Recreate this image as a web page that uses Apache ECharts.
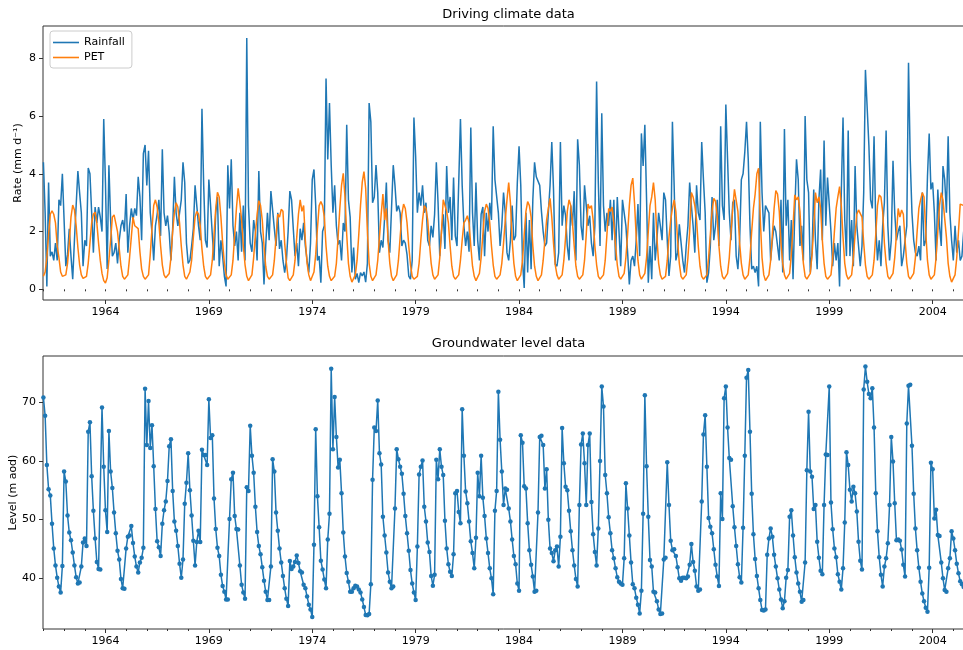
<!DOCTYPE html>
<html><head><meta charset="utf-8">
<script src="https://cdn.jsdelivr.net/npm/echarts@6/dist/echarts.min.js"></script>
<style>html,body{margin:0;padding:0;background:#fff}#c{width:963px;height:650px}</style>
</head><body><div id="c"></div>
<script>
// Monthly series starting January 1961
const startYear = 1961;

const rainfall = [
4.4,2.65,0.1,3.7,1.15,1.3,1.0,1.6,1.0,3.1,2.9,4.0,
3.95,0.8,1.2,2.1,1.15,0.35,1.7,2.9,4.1,3.35,2.65,0.8,
1.7,1.5,4.2,4.0,2.65,1.27,2.85,2.3,2.85,2.5,2.0,5.9,
3.7,0.7,4.3,2.4,1.15,1.27,1.6,0.9,1.7,2.2,2.4,2.0,
3.3,1.27,2.2,2.8,2.4,2.8,2.55,3.9,3.2,1.7,4.7,5.0,
3.6,4.8,2.65,1.96,1.0,2.2,2.6,3.1,1.85,4.85,2.65,2.2,
2.55,1.96,1.0,2.1,3.9,2.65,2.2,2.65,3.1,4.4,3.7,1.6,
0.9,1.0,1.5,2.1,3.6,2.9,2.2,1.7,6.25,3.6,1.7,1.45,
3.8,2.9,1.9,1.0,2.65,3.2,0.8,1.7,1.15,0.46,0.1,4.3,
2.8,4.5,2.2,1.5,2.0,1.0,2.65,1.3,2.9,1.0,8.7,2.9,
1.6,1.3,2.4,2.0,1.0,4.1,2.0,1.6,0.17,1.5,2.65,1.7,
3.4,3.4,2.1,1.5,2.65,1.4,1.7,1.0,0.58,1.0,2.0,3.4,
3.1,2.1,1.15,1.6,0.8,2.1,1.7,2.3,1.5,1.0,0.58,1.6,
3.8,4.15,2.9,1.0,1.15,0.23,2.0,2.2,7.3,4.5,6.45,4.3,
2.65,3.6,2.2,1.55,1.7,1.0,2.3,2.0,5.7,3.1,2.5,0.58,
1.45,0.35,0.55,0.23,0.58,0.46,0.6,0.25,0.9,6.45,5.8,3.0,
3.2,4.3,3.35,1.27,1.7,1.45,2.5,3.7,1.7,1.27,2.8,4.3,
3.6,2.7,2.9,2.65,1.5,1.7,1.6,1.2,0.46,0.35,1.0,5.95,
4.6,2.65,3.35,2.9,3.6,2.65,3.0,1.7,1.5,2.2,1.8,2.6,
4.4,3.0,1.15,2.0,2.6,1.4,4.27,2.65,3.2,1.7,3.87,1.85,
1.5,1.5,5.9,3.6,2.2,1.5,2.0,1.3,5.6,2.65,1.5,3.7,
1.7,1.0,2.6,2.85,1.15,2.65,2.0,3.0,2.4,5.65,3.8,3.75,
2.65,1.5,2.2,3.35,2.65,1.27,1.0,1.7,2.9,1.7,1.85,3.7,
4.95,3.6,1.0,0.05,2.65,0.58,2.4,0.7,3.1,4.4,3.9,3.87,
3.6,2.7,2.0,1.5,1.6,2.65,3.6,5.1,3.46,0.87,0.8,1.27,
5.1,2.2,2.9,2.55,1.5,1.0,2.9,2.2,3.4,1.0,5.2,4.3,
2.2,1.7,3.6,2.9,2.2,2.55,1.6,1.15,2.2,7.2,3.7,1.5,
6.1,2.9,2.0,2.65,2.2,3.1,1.7,3.1,1.0,3.2,2.0,0.8,
3.1,2.65,2.2,1.27,0.17,1.0,1.15,0.8,1.7,2.95,1.15,5.4,
4.27,5.7,3.1,0.23,1.5,0.35,2.65,1.0,1.7,2.65,2.2,1.7,
3.35,3.1,1.7,0.46,1.15,5.8,3.6,1.0,1.27,2.25,2.2,1.0,
0.58,1.5,2.2,3.7,2.9,2.2,1.27,3.6,2.65,2.4,5.1,3.8,
2.65,0.23,0.58,1.5,3.2,1.7,2.2,3.1,1.5,5.65,2.9,2.4,
6.4,4.5,2.65,1.7,3.0,3.1,1.15,0.7,1.7,3.8,4.0,4.75,
5.8,4.5,2.2,0.7,0.8,0.58,0.8,0.1,5.8,3.35,2.0,2.9,
2.9,2.65,1.0,1.7,2.2,2.0,1.5,1.0,3.1,0.58,5.55,2.2,
3.1,1.0,2.4,0.35,2.65,4.5,3.8,1.5,2.2,1.0,6.0,3.8,
3.35,0.58,1.27,3.46,1.7,0.7,3.1,4.15,1.7,5.15,2.2,3.87,
3.9,2.0,0.8,1.6,1.0,1.6,0.1,3.35,5.95,2.4,1.15,5.5,
1.15,2.4,0.8,4.27,2.2,1.5,0.8,1.5,3.35,7.6,7.65,5.0,
3.1,2.8,5.3,2.2,1.0,1.7,0.8,2.2,3.0,5.5,2.2,1.0,
1.7,4.45,2.65,1.7,2.0,2.2,0.8,1.15,1.7,2.2,7.85,4.5,
2.65,1.7,1.27,1.15,1.5,1.0,3.35,1.5,1.7,3.9,5.4,3.46,
3.7,2.65,1.0,3.46,2.2,1.5,4.27,3.8,2.65,5.3,2.65,1.7,
1.0,2.2,1.27,1.7,1.0,1.15,2.0,1.5
];

const pet = [
0.45,0.6,1.1,1.9,2.6,2.72,2.6,2.3,1.5,1.1,0.6,0.45,
0.4,0.5,0.9,1.6,2.5,2.92,2.75,2.2,1.45,0.85,0.5,0.38,
0.35,0.45,0.9,1.6,2.3,2.6,2.67,2.3,1.6,1.0,0.55,0.3,
0.22,0.4,1.0,1.7,2.5,2.58,2.55,2.0,1.4,0.8,0.45,0.35,
0.4,0.5,1.1,1.8,2.5,2.2,2.15,2.1,1.3,0.7,0.45,0.35,
0.3,0.5,1.2,2.1,2.9,3.1,2.85,2.3,1.5,0.85,0.5,0.4,
0.35,0.55,1.1,2.0,2.65,3.0,2.85,2.3,1.5,0.85,0.45,0.35,
0.4,0.6,1.0,1.8,2.5,2.7,2.6,2.2,1.4,0.8,0.45,0.35,
0.4,0.5,1.0,1.9,2.8,3.36,3.2,2.5,1.6,0.9,0.5,0.35,
0.35,0.5,1.0,1.9,2.8,3.5,3.0,2.4,1.5,0.85,0.45,0.3,
0.3,0.5,1.1,1.9,2.6,3.07,2.9,2.4,1.5,0.8,0.45,0.35,
0.35,0.5,1.0,1.8,2.6,2.5,2.77,2.7,1.6,0.9,0.4,0.3,
0.35,0.5,1.0,1.8,2.6,3.1,2.7,2.9,1.7,0.9,0.5,0.3,
0.35,0.6,1.2,2.1,2.9,3.04,2.9,2.5,1.5,0.8,0.45,0.3,
0.3,0.45,0.9,1.8,2.8,3.6,4.02,3.2,1.9,0.9,0.45,0.25,
0.3,0.5,1.0,1.9,2.9,3.7,4.08,3.5,2.0,0.9,0.45,0.3,
0.35,0.5,1.0,1.8,2.6,3.3,2.4,2.8,1.7,0.9,0.45,0.3,
0.35,0.5,1.0,1.8,2.6,2.95,2.8,2.3,1.5,0.85,0.45,0.35,
0.3,0.45,0.9,1.7,2.4,2.9,2.8,2.4,1.6,0.9,0.5,0.35,
0.35,0.5,1.1,2.0,3.1,2.9,2.7,2.3,1.5,0.8,0.45,0.35,
0.35,0.5,1.0,1.7,2.3,2.4,2.55,2.3,1.5,0.8,0.45,0.3,
0.35,0.55,1.1,1.9,2.7,2.95,2.8,2.3,1.5,0.85,0.45,0.35,
0.35,0.5,0.9,1.6,2.4,3.1,3.7,3.0,1.7,0.9,0.45,0.3,
0.3,0.5,1.0,1.9,2.7,3.04,2.9,2.5,1.5,0.8,0.45,0.3,
0.35,0.5,1.0,1.7,2.4,2.8,3.15,2.5,1.6,0.85,0.5,0.35,
0.35,0.5,1.0,1.8,2.7,3.1,2.9,2.3,1.5,0.8,0.45,0.35,
0.35,0.5,1.0,1.9,2.95,2.8,2.9,2.4,1.5,0.85,0.45,0.35,
0.35,0.5,1.0,1.9,2.8,2.7,2.85,2.3,1.5,0.85,0.45,0.35,
0.4,0.55,1.1,1.9,2.9,3.6,3.85,3.0,1.8,1.0,0.5,0.35,
0.35,0.55,1.1,2.0,2.9,3.2,3.7,3.1,1.8,0.9,0.5,0.35,
0.3,0.45,1.0,1.8,2.4,2.8,3.1,2.7,1.7,0.9,0.45,0.35,
0.35,0.5,1.1,2.0,3.35,3.2,2.9,2.4,1.5,0.8,0.45,0.35,
0.35,0.5,1.1,1.9,2.7,3.15,3.05,2.5,1.5,0.8,0.45,0.35,
0.35,0.55,1.1,2.0,2.8,3.46,3.4,2.7,1.6,0.9,0.5,0.35,
0.35,0.5,1.1,2.0,2.8,3.3,4.0,4.19,2.4,1.1,0.5,0.3,
0.3,0.5,1.0,1.9,2.8,3.42,3.3,2.7,1.6,0.9,0.5,0.35,
0.35,0.55,1.2,2.2,3.27,3.1,3.2,2.7,1.6,0.9,0.45,0.35,
0.35,0.55,1.2,2.1,3.35,3.0,3.2,2.8,1.7,0.9,0.45,0.35,
0.35,0.5,1.1,2.0,2.8,3.2,3.56,2.9,1.8,0.9,0.5,0.35,
0.35,0.5,1.1,1.9,2.6,2.75,2.7,2.5,1.6,0.85,0.45,0.35,
0.35,0.5,1.0,1.9,2.9,3.27,3.2,2.7,1.6,0.9,0.45,0.35,
0.35,0.55,1.1,1.9,2.8,2.5,2.75,2.6,1.7,0.9,0.45,0.35,
0.35,0.55,1.1,2.0,2.8,3.1,3.35,3.2,2.0,1.0,0.5,0.35,
0.35,0.5,1.1,2.0,2.9,3.35,3.1,3.1,1.8,0.9,0.45,0.25,
0.3,0.5,1.1,2.0,2.95,2.9,2.9,2.5
];

const groundwater = [
70.8,67.7,59.3,55.2,54.1,49.3,45.1,42.2,40.1,38.6,37.6,42.1,
58.2,56.5,50.7,47.8,46.5,44.4,42.2,40.2,39.1,39.3,42.0,46.1,
46.8,45.5,65.0,66.6,57.4,51.5,46.8,42.8,41.6,41.5,69.1,59.0,
51.6,47.9,65.1,58.2,55.4,51.2,47.7,44.7,43.2,39.9,38.3,38.2,
45.1,47.1,47.3,48.9,46.0,43.7,42.0,41.0,42.7,43.5,45.2,72.3,
62.7,70.2,62.2,66.1,59.1,51.8,46.3,45.3,43.8,49.3,51.6,53.1,
56.6,62.5,63.7,54.9,49.7,48.1,45.5,42.5,40.1,43.2,52.7,56.3,
61.3,55.0,50.7,46.4,42.2,46.2,48.1,46.2,61.9,61.0,61.0,59.3,
70.5,63.9,64.4,53.6,48.4,45.2,43.8,40.6,38.7,37.7,36.4,36.4,
50.1,56.9,58.0,50.6,48.4,48.3,42.2,38.9,37.6,36.5,55.5,54.9,
66.0,60.9,58.0,52.2,47.9,45.5,44.1,41.9,39.6,37.7,36.3,36.3,
42.0,60.3,58.2,51.2,48.1,45.1,42.7,40.4,38.3,36.5,35.3,42.95,
41.6,42.0,42.8,43.9,42.6,41.2,41.0,38.9,38.3,36.9,35.5,34.7,
33.4,45.7,65.4,54.0,48.7,43.0,41.5,39.8,38.3,46.6,51.0,75.7,
62.0,70.9,64.1,58.9,60.2,54.5,47.8,43.7,40.9,39.4,37.7,37.7,
38.3,38.75,38.6,38.1,37.6,36.4,35.1,33.75,33.7,33.9,39.0,56.8,
65.7,65.1,70.3,61.3,59.4,50.5,47.3,44.4,41.0,39.4,38.3,38.6,
51.9,62.0,60.3,59.0,57.8,54.4,50.6,47.7,44.7,41.4,39.1,37.6,
36.3,45.4,57.7,59.0,60.1,52.2,49.7,46.1,44.5,40.4,38.75,40.6,
60.2,56.9,62.0,59.0,57.6,49.8,45.1,42.4,41.1,40.4,44.1,54.5,
54.9,51.3,49.4,68.8,60.9,54.8,52.8,49.7,46.3,44.3,41.7,46.9,
58.0,54.0,60.9,53.75,50.6,46.8,44.3,41.7,40.0,37.3,51.5,54.9,
71.8,63.6,58.2,52.5,55.3,55.1,51.9,49.7,46.6,43.8,42.4,39.1,
37.9,64.4,63.1,55.7,55.3,49.4,44.8,42.3,40.3,37.7,37.9,51.2,
64.1,64.3,62.7,55.3,58.6,50.0,45.1,44.3,42.9,44.8,45.4,42.0,
47.1,65.6,59.6,55.6,55.0,51.5,48.0,44.8,42.2,39.9,38.6,52.5,
62.8,64.7,59.6,52.5,62.7,64.7,53.0,47.5,44.5,42.2,48.5,60.0,
72.7,69.3,57.6,54.5,50.4,47.7,44.8,43.4,41.7,40.2,39.4,39.1,
38.9,43.4,56.2,51.9,47.3,42.7,39.0,38.3,36.7,35.5,34.0,37.9,
51.0,71.2,59.1,50.5,43.1,42.0,37.7,37.6,36.1,34.7,33.9,34.0,
43.2,43.5,59.8,52.5,46.4,44.8,44.95,43.8,41.9,40.0,39.6,40.1,
40.1,40.0,40.3,42.3,45.85,42.8,41.3,38.6,37.9,38.1,53.1,64.5,
67.8,59.0,50.3,48.8,47.7,44.95,42.3,40.3,38.7,54.5,50.1,70.7,
72.7,65.7,60.5,60.2,52.3,48.7,45.5,42.4,40.2,39.3,48.6,60.9,
74.2,75.5,65.0,54.4,47.5,43.3,40.4,38.3,36.3,34.6,34.5,34.7,
44.0,46.8,48.5,47.1,44.0,42.0,40.0,38.1,36.4,34.9,36.1,40.1,
41.4,50.5,51.6,47.3,43.6,41.0,39.1,37.7,36.0,36.3,42.7,58.4,
68.4,58.2,57.3,51.8,52.5,46.25,43.5,41.3,40.7,52.5,61.1,61.0,
72.7,52.9,48.35,45.1,43.6,40.7,39.4,38.1,41.7,49.5,61.5,59.3,
55.1,53.1,55.6,54.5,51.4,46.25,43.0,41.5,72.2,76.1,73.5,71.4,
70.7,72.4,65.7,54.5,48.0,43.6,40.6,38.6,42.0,43.4,45.97,52.5,
64.1,59.9,52.8,46.5,46.6,46.4,44.9,42.3,40.3,66.4,72.8,73.0,
62.6,54.4,48.5,44.8,41.8,39.4,37.4,36.1,35.0,34.3,41.8,59.7,
58.6,50.2,51.7,47.4,47.2,42.7,40.0,38.0,37.7,41.7,43.4,48.0,
46.8,44.8,42.5,40.85,39.5,39.0,38.5,38.0
];

const majorYears = [1964,1969,1974,1979,1984,1989,1994,1999,2004];
const minorYears = [1961,1962,1963,1964,1965,1966,1967,1968,1969,1970,1971,1972,1973,1974,1975,1976,1977,1978,1979,1980,1981,1982,1983,1984,1985,1986,1987,1988,1989,1990,1991,1992,1993,1994,1995,1996,1997,1998,1999,2000,2001,2002,2003,2004,2005];
const rateTicks = [0,2,4,6,8];
const levelTicks = [40,50,60,70];

const toPairs = arr => arr.map((v, i) => [startYear + i / 12, v]);

const FONT = 'DejaVu Sans';
const AX = '#333333';
const X_MIN = 1960.98, X_MAX = 2006.0;
const LINE_ICON = 'path://M0,0 L26,0 L26,1.6 L0,1.6 Z';

function xPair(gi) {
  return [{
    gridIndex: gi, type: 'value', min: X_MIN, max: X_MAX, position: 'bottom',
    axisLine: {show: false}, splitLine: {show: false},
    axisTick: {show: true, length: 2, customValues: minorYears, lineStyle: {color: AX, width: 1}},
    axisLabel: {show: true, customValues: majorYears, margin: 7, color: '#000', fontFamily: FONT, fontSize: 11,
      formatter: v => String(Math.round(v))}
  }, {
    gridIndex: gi, type: 'value', min: X_MIN, max: X_MAX, position: 'bottom',
    axisLine: {show: false}, splitLine: {show: false},
    axisTick: {show: true, length: 4, customValues: majorYears, lineStyle: {color: AX, width: 1}},
    axisLabel: {show: false}
  }];
}

function yAx(gi, min, max, ticks, name, gap) {
  return {
    gridIndex: gi, type: 'value', min: min, max: max,
    axisLine: {show: false}, splitLine: {show: false},
    axisTick: {show: true, length: 4, customValues: ticks, lineStyle: {color: AX, width: 1}},
    axisLabel: {customValues: ticks, margin: 7, color: '#000', fontFamily: FONT, fontSize: 11},
    name: name, nameLocation: 'middle', nameGap: gap, nameMoveOverlap: false,
    nameTextStyle: {fontFamily: FONT, fontSize: 11, color: '#000'}
  };
}

const chart = echarts.init(document.getElementById('c'), null, {renderer: 'canvas'});
chart.setOption({
  animation: false,
  backgroundColor: '#ffffff',
  textStyle: {fontFamily: FONT},
  title: [
    {text: 'Driving climate data', left: 508.5, top: 8, textAlign: 'center', padding: 0,
     textStyle: {fontFamily: FONT, fontSize: 13, fontWeight: 'normal', color: '#000'}},
    {text: 'Groundwater level data', left: 508.5, top: 337, textAlign: 'center', padding: 0,
     textStyle: {fontFamily: FONT, fontSize: 13, fontWeight: 'normal', color: '#000'}}
  ],
  legend: {
    data: [{name: 'Rainfall', icon: LINE_ICON}, {name: 'PET', icon: LINE_ICON}],
    orient: 'vertical', left: 50, top: 31,
    itemWidth: 26, itemHeight: 14, itemGap: 4, padding: [6, 7, 5, 3],
    borderColor: '#cccccc', borderWidth: 1, borderRadius: 3, backgroundColor: 'rgba(255,255,255,0.8)',
    textStyle: {fontFamily: FONT, fontSize: 11, color: '#000'}
  },
  grid: [
    {left: 43, top: 26, width: 931, height: 274, show: true, borderColor: AX, borderWidth: 1,
     backgroundColor: 'transparent', containLabel: false, outerBoundsMode: 'none'},
    {left: 43, top: 356, width: 931, height: 273, show: true, borderColor: AX, borderWidth: 1,
     backgroundColor: 'transparent', containLabel: false, outerBoundsMode: 'none'}
  ],
  xAxis: [...xPair(0), ...xPair(1)],
  yAxis: [
    yAx(0, -0.37, 9.12, rateTicks, 'Rate (mm d\u207B\u00B9)', 19),
    yAx(1, 31.36, 77.89, levelTicks, 'Level (m aod)', 24)
  ],
  series: [
    {name: 'Rainfall', type: 'line', xAxisIndex: 0, yAxisIndex: 0, data: toPairs(rainfall),
     symbol: 'none', lineStyle: {color: '#1f77b4', width: 1.5}, itemStyle: {color: '#1f77b4'}, z: 2},
    {name: 'PET', type: 'line', xAxisIndex: 0, yAxisIndex: 0, data: toPairs(pet),
     symbol: 'none', lineStyle: {color: '#ff7f0e', width: 1.5}, itemStyle: {color: '#ff7f0e'}, z: 3},
    {name: 'Groundwater', type: 'line', xAxisIndex: 2, yAxisIndex: 1, data: toPairs(groundwater),
     symbol: 'circle', symbolSize: 4.5, showSymbol: true,
     lineStyle: {color: '#1f77b4', width: 1.5}, itemStyle: {color: '#1f77b4'}, z: 2}
  ]
});
</script>
</body></html>
